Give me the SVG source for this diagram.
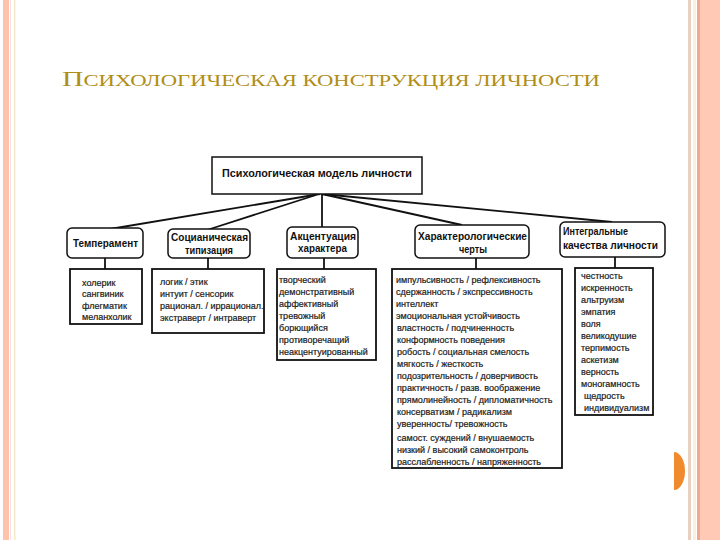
<svg xmlns="http://www.w3.org/2000/svg" width="720" height="540" viewBox="0 0 720 540">
<style>
.hdr{font-family:"Liberation Sans",Arial,sans-serif;font-weight:bold;font-size:11px;fill:#111}
.hb{fill:#fff;stroke:#111;stroke-width:1.5}
.db{fill:#fff;stroke:#111;stroke-width:1.8}
.dt{font-family:"Liberation Sans",Arial,sans-serif;font-size:9px;fill:#1a1a1a;stroke:#1a1a1a;stroke-width:0.2}
.cn{stroke:#111;stroke-width:1.8;fill:none}
</style>
<rect width="720" height="540" fill="#fff"/>
<!-- page borders -->
<rect x="3" y="0" width="6" height="540" fill="#FFC2AA"/>
<rect x="10" y="0" width="1" height="540" fill="#F6E0E6"/>
<rect x="14" y="0" width="1.5" height="540" fill="#F4EAC8"/>
<rect x="688" y="0" width="3" height="540" fill="#E9CFC0"/>
<rect x="693" y="0" width="3" height="540" fill="#FBF0DE"/>
<rect x="697" y="0" width="3" height="540" fill="#F2A88E"/>
<rect x="700" y="0" width="20" height="540" fill="#FFC9B6"/>
<path d="M674,452 A11,19 0 0 1 674,490 Z" fill="#F08A2E"/>
<!-- title -->
<text x="62" y="86" font-family="'Liberation Serif','Times New Roman',serif" fill="#B08E16" textLength="538" lengthAdjust="spacingAndGlyphs"><tspan font-size="21">П</tspan><tspan font-size="16">СИХОЛОГИЧЕСКАЯ КОНСТРУКЦИЯ ЛИЧНОСТИ</tspan></text>
<!-- connectors -->
<g id="connectors">
<line class="cn" x1="320" y1="194" x2="110" y2="229"/>
<line class="cn" x1="316" y1="195" x2="207" y2="230"/>
<line class="cn" x1="322" y1="194" x2="322" y2="227"/>
<line class="cn" x1="322" y1="194" x2="462" y2="225"/>
<line class="cn" x1="322" y1="194" x2="612" y2="222"/>
<line class="cn" x1="105" y1="258" x2="105" y2="269"/>
<line class="cn" x1="208" y1="258" x2="208" y2="269"/>
<line class="cn" x1="324" y1="258" x2="324" y2="269"/>
<line class="cn" x1="476" y1="258" x2="476" y2="269"/>
<line class="cn" x1="615" y1="257" x2="615" y2="268"/>
</g>
<g id="root">
<rect class="hb" x="212" y="157" width="210" height="37"/>
<text class="hdr" x="222" y="177" textLength="190" lengthAdjust="spacingAndGlyphs">Психологическая модель личности</text>
</g>
<g id="temperament">
<rect class="hb" x="67" y="228" width="76" height="30" rx="5"/>
<text class="hdr" x="73" y="247" textLength="65" lengthAdjust="spacingAndGlyphs">Темперамент</text>
</g>
<g id="socionics">
<rect class="hb" x="168" y="229" width="82" height="29" rx="5"/>
<text class="hdr" x="171" y="241" textLength="77" lengthAdjust="spacingAndGlyphs">Социаническая</text>
<text class="hdr" x="185" y="254" textLength="48" lengthAdjust="spacingAndGlyphs">типизация</text>
</g>
<g id="accent">
<rect class="hb" x="287" y="227" width="71" height="31" rx="5" stroke-width="2.2"/>
<text class="hdr" x="290" y="240" textLength="66" lengthAdjust="spacingAndGlyphs">Акцентуация</text>
<text class="hdr" x="298" y="252" textLength="49" lengthAdjust="spacingAndGlyphs">характера</text>
</g>
<g id="traits">
<rect class="hb" x="415" y="225" width="114" height="33" rx="5"/>
<text class="hdr" x="418" y="240" textLength="109" lengthAdjust="spacingAndGlyphs">Характерологические</text>
<text class="hdr" x="459" y="253" textLength="28" lengthAdjust="spacingAndGlyphs">черты</text>
</g>
<g id="integral">
<rect class="hb" x="560" y="222" width="105" height="35" rx="5"/>
<text class="hdr" x="563" y="235" textLength="65" lengthAdjust="spacingAndGlyphs">Интегральные</text>
<text class="hdr" x="563" y="249" textLength="95" lengthAdjust="spacingAndGlyphs">качества личности</text>
</g>
<g id="temperament-list">
<rect class="db" x="70" y="269" width="72" height="55"/>
<text class="dt" x="82" y="286">холерик</text>
<text class="dt" x="82" y="297">сангвиник</text>
<text class="dt" x="82" y="309">флегматик</text>
<text class="dt" x="82" y="320">меланхолик</text>
</g>
<g id="socionics-list">
<rect class="db" x="152" y="269" width="112" height="64"/>
<text class="dt" x="160" y="285">логик / этик</text>
<text class="dt" x="160" y="297">интуит / сенсорик</text>
<text class="dt" x="160" y="309">рационал. / иррационал.</text>
<text class="dt" x="160" y="321">экстраверт / интраверт</text>
</g>
<g id="accent-list">
<rect class="db" x="277" y="269" width="99" height="91"/>
<text class="dt" x="279" y="283">творческий</text>
<text class="dt" x="279" y="295">демонстративный</text>
<text class="dt" x="279" y="307">аффективный</text>
<text class="dt" x="279" y="319">тревожный</text>
<text class="dt" x="279" y="331">борющийся</text>
<text class="dt" x="279" y="343">противоречащий</text>
<text class="dt" x="279" y="355">неакцентуированный</text>
</g>
<g id="traits-list">
<rect class="db" x="392" y="269" width="170" height="199"/>
<text class="dt" x="396" y="283">импульсивность / рефлексивность</text>
<text class="dt" x="396" y="295">сдержанность / экспрессивность</text>
<text class="dt" x="396" y="307">интеллект</text>
<text class="dt" x="396" y="319">эмоциональная устойчивость</text>
<text class="dt" x="397" y="331">властность / подчиненность</text>
<text class="dt" x="397" y="343">конформность поведения</text>
<text class="dt" x="397" y="355">робость / социальная смелость</text>
<text class="dt" x="397" y="367">мягкость / жесткость</text>
<text class="dt" x="397" y="379">подозрительность / доверчивость</text>
<text class="dt" x="397" y="391">практичность / разв. воображение</text>
<text class="dt" x="397" y="403">прямолинейность / дипломатичность</text>
<text class="dt" x="397" y="415">консерватизм / радикализм</text>
<text class="dt" x="397" y="427">уверенность/ тревожность</text>
<text class="dt" x="397" y="441">самост. суждений / внушаемость</text>
<text class="dt" x="397" y="453">низкий / высокий самоконтроль</text>
<text class="dt" x="397" y="465">расслабленность / напряженность</text>
</g>
<g id="integral-list">
<rect class="db" x="575" y="268" width="78" height="147"/>
<text class="dt" x="581" y="279">честность</text>
<text class="dt" x="581" y="291">искренность</text>
<text class="dt" x="581" y="303">альтруизм</text>
<text class="dt" x="581" y="315">эмпатия</text>
<text class="dt" x="581" y="327">воля</text>
<text class="dt" x="581" y="339">великодушие</text>
<text class="dt" x="581" y="351">терпимость</text>
<text class="dt" x="581" y="363">аскетизм</text>
<text class="dt" x="581" y="375">верность</text>
<text class="dt" x="581" y="387">моногамность</text>
<text class="dt" x="584" y="399">щедрость</text>
<text class="dt" x="584" y="411">индивидуализм</text>
</g>
</svg>
